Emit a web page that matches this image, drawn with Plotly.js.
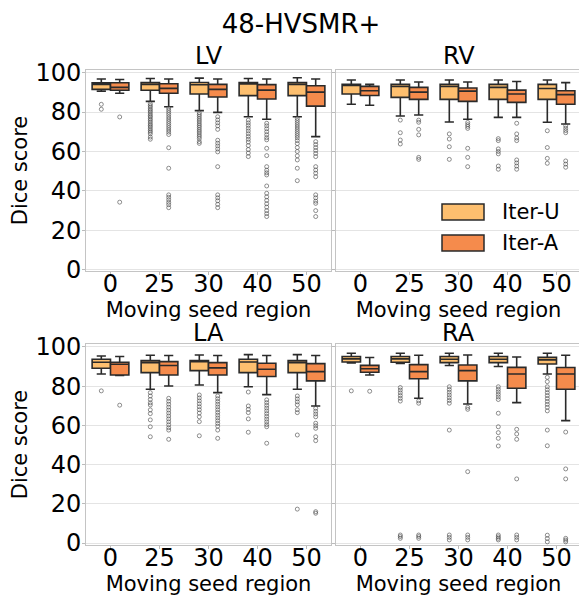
<!DOCTYPE html>
<html><head><meta charset="utf-8">
<script src="https://cdn.plot.ly/plotly-3.0.1.min.js"></script>
<style>html,body{margin:0;padding:0;overflow:hidden;background:#fff}</style>
</head><body><div id="chart" style="width:585px;height:596px"></div>
<script>
// ---------------- data ----------------
const categories = ['0', '25', '30', '40', '50'];
const seriesNames = ['Iter-U', 'Iter-A'];
const panelNames = ['LV', 'RV', 'LA', 'RA'];
const yTicks = [0, 20, 40, 60, 80, 100];

// LV
const LV_U_low = [90.5, 85.4, 80.7, 77.6, 77.6];
const LV_U_q1  = [91.5, 91.0, 89.1, 88.3, 88.3];
const LV_U_med = [94.0, 94.0, 93.8, 94.2, 94.0];
const LV_U_q3  = [94.8, 95.0, 95.0, 95.0, 95.0];
const LV_U_up  = [96.7, 97.0, 97.2, 97.0, 97.4];
const LV_U_out = [
  [83.9, 81.4],
  [84.2, 83.3, 82.5, 81.6, 80.8, 80.0, 79.1, 78.2, 77.5, 76.6, 75.8, 74.9, 74.0, 73.2, 72.4, 71.5, 70.6, 69.8, 68.9, 67.3, 66.2],
  [79.6, 78.7, 77.8, 76.8, 75.9, 75.0, 74.0, 73.1, 72.2, 71.2, 70.3, 69.4, 68.4, 67.5, 66.5, 65.0, 64.1],
  [75.9, 74.5, 73.2, 71.8, 70.4, 69.0, 67.6, 66.2, 64.8, 63.0, 61.0, 59.2, 57.4],
  [76.8, 75.7, 74.6, 73.5, 72.4, 71.3, 70.2, 69.1, 68.0, 66.9, 65.5, 64.0, 62.0, 60.0, 57.8, 55.7, 51.5, 45.2]
];
const LV_A_low = [89.5, 82.7, 79.8, 76.3, 67.5];
const LV_A_q1  = [91.0, 89.5, 87.6, 86.6, 83.0];
const LV_A_med = [92.5, 92.0, 91.5, 91.1, 90.1];
const LV_A_q3  = [94.8, 94.3, 94.0, 93.9, 93.3];
const LV_A_up  = [96.5, 96.7, 96.7, 96.7, 96.7];
const LV_A_out = [
  [77.5, 34.3],
  [82.0, 80.9, 79.8, 78.7, 77.5, 76.4, 75.3, 74.2, 73.1, 72.0, 70.9, 69.8, 68.6, 61.9, 51.5, 38.0, 36.8, 35.5, 34.2, 33.0, 31.5],
  [77.6, 76.0, 74.5, 73.0, 71.2, 65.7, 64.2, 62.8, 61.3, 59.8, 52.3, 38.0, 36.5, 35.0, 33.2, 31.5],
  [74.3, 73.0, 71.5, 70.0, 68.5, 67.0, 65.9, 61.6, 57.9, 52.3, 50.5, 49.2, 48.1, 42.5, 38.8, 37.0, 35.2, 33.5, 31.8, 30.0, 28.5, 27.0],
  [65.0, 63.5, 62.0, 60.5, 59.0, 57.4, 52.3, 50.6, 49.0, 47.2, 38.0, 36.5, 34.8, 33.7, 30.0, 27.0]
];

// RV
const RV_U_low = [83.9, 78.0, 74.9, 77.3, 74.8];
const RV_U_q1  = [89.1, 87.4, 86.4, 86.4, 86.4];
const RV_U_med = [93.6, 92.9, 92.9, 92.5, 91.9];
const RV_U_q3  = [94.0, 94.0, 94.0, 94.0, 94.0];
const RV_U_up  = [96.2, 96.2, 96.2, 96.2, 96.2];
const RV_U_out = [
  [],
  [75.9, 69.5, 65.8, 63.8],
  [68.9, 66.3, 62.4, 56.0],
  [66.5, 65.5, 61.3, 60.0, 58.8, 52.6, 51.0],
  [70.5, 62.0, 56.5, 54.0]
];
const RV_A_low = [83.4, 78.5, 76.3, 77.3, 73.9];
const RV_A_q1  = [88.4, 86.4, 85.4, 84.9, 83.9];
const RV_A_med = [90.8, 90.1, 90.6, 89.1, 88.8];
const RV_A_q3  = [93.0, 92.5, 92.2, 91.1, 90.8];
const RV_A_up  = [94.0, 95.2, 95.2, 95.5, 94.9];
const RV_A_out = [
  [],
  [75.9, 74.8, 71.2, 68.4, 57.0, 56.0],
  [74.7, 73.6, 72.7, 71.7, 61.6, 57.0, 52.3],
  [74.3, 68.9, 66.8, 65.5, 55.7, 54.2, 52.6, 51.0],
  [73.0, 71.8, 70.6, 69.5, 55.2, 53.6, 52.0]
];

// LA
const LA_U_low = [86.2, 78.4, 80.6, 79.7, 78.4];
const LA_U_q1  = [89.1, 86.9, 87.9, 86.9, 86.9];
const LA_U_med = [92.2, 92.0, 92.5, 92.3, 92.0];
const LA_U_q3  = [93.7, 93.0, 93.0, 93.7, 93.0];
const LA_U_up  = [95.4, 95.8, 95.9, 96.1, 96.1];
const LA_U_out = [
  [77.6],
  [76.7, 75.0, 73.2, 71.5, 70.4, 67.9, 66.0, 62.8, 59.3, 54.2],
  [75.5, 74.0, 72.5, 71.0, 69.5, 68.0, 66.3, 64.4, 61.9, 54.7],
  [77.0, 69.9, 68.2, 66.5, 63.3, 56.5],
  [75.0, 73.5, 72.0, 70.5, 68.0, 66.5, 55.1, 17.3]
];
const LA_A_low = [85.5, 80.1, 76.7, 75.7, 69.9];
const LA_A_q1  = [85.7, 85.7, 85.7, 84.9, 82.7];
const LA_A_med = [91.2, 90.5, 89.3, 88.6, 87.4];
const LA_A_q3  = [92.2, 92.5, 92.0, 91.7, 91.5];
const LA_A_up  = [95.1, 95.6, 95.6, 95.6, 95.6];
const LA_A_out = [
  [70.3],
  [73.8, 72.3, 70.8, 69.3, 67.8, 66.3, 64.8, 63.3, 61.8, 60.3, 58.8, 57.6, 52.9],
  [75.0, 73.6, 72.2, 70.8, 69.4, 68.0, 66.6, 65.2, 63.8, 62.4, 61.0, 59.6, 57.6, 53.4],
  [73.0, 71.6, 70.2, 68.8, 67.4, 66.0, 64.6, 63.2, 61.8, 60.4, 59.3, 50.9],
  [68.7, 67.2, 65.8, 64.4, 61.1, 59.8, 58.5, 54.2, 52.2, 16.0, 15.2]
];

// RA
const RA_U_low = [91.8, 91.6, 90.5, 90.0, 86.2];
const RA_U_q1  = [92.3, 92.2, 92.0, 92.0, 91.3];
const RA_U_med = [93.9, 93.9, 93.7, 93.7, 93.4];
const RA_U_q3  = [95.1, 95.1, 95.1, 95.1, 94.7];
const RA_U_up  = [96.8, 96.8, 96.8, 96.8, 96.8];
const RA_U_out = [
  [77.6],
  [79.3, 78.0, 76.6, 75.2, 73.8, 72.4, 4.1, 3.3, 2.4],
  [79.7, 78.3, 76.9, 75.5, 74.1, 72.7, 71.3, 57.6, 4.1, 2.9, 1.6],
  [79.7, 78.4, 77.1, 75.8, 74.5, 73.2, 66.2, 59.3, 56.3, 53.4, 49.5, 4.1, 3.2, 2.4, 1.6],
  [84.5, 82.3, 79.7, 78.2, 76.7, 75.2, 73.7, 72.2, 70.7, 69.2, 67.4, 57.6, 49.6, 4.0, 2.3, 0.6]
];
const RA_A_low = [85.7, 73.8, 70.9, 71.6, 62.4];
const RA_A_q1  = [87.1, 83.8, 82.7, 78.9, 78.4];
const RA_A_med = [88.9, 87.4, 87.9, 86.2, 86.2];
const RA_A_q3  = [90.6, 91.0, 90.8, 89.6, 89.5];
const RA_A_up  = [94.6, 95.8, 95.9, 94.9, 95.8];
const RA_A_out = [
  [77.4],
  [72.5, 71.3, 4.1, 3.3, 2.4],
  [69.2, 68.2, 36.4, 4.1, 2.9, 1.6],
  [58.0, 55.6, 52.9, 32.7, 4.1, 2.9, 1.6],
  [56.6, 37.8, 32.7, 2.4, 1.5, 0.6]
];

// ---------------- build ----------------
const W = 585, H = 596;
const colors = ['#fdbf6f', '#f58b4c'];
const boxLine = '#2a2a2a';
const BOXGAP = 0.25;

const panelData = {
  LV: [[LV_U_low, LV_U_q1, LV_U_med, LV_U_q3, LV_U_up, LV_U_out], [LV_A_low, LV_A_q1, LV_A_med, LV_A_q3, LV_A_up, LV_A_out]],
  RV: [[RV_U_low, RV_U_q1, RV_U_med, RV_U_q3, RV_U_up, RV_U_out], [RV_A_low, RV_A_q1, RV_A_med, RV_A_q3, RV_A_up, RV_A_out]],
  LA: [[LA_U_low, LA_U_q1, LA_U_med, LA_U_q3, LA_U_up, LA_U_out], [LA_A_low, LA_A_q1, LA_A_med, LA_A_q3, LA_A_up, LA_A_out]],
  RA: [[RA_U_low, RA_U_q1, RA_U_med, RA_U_q3, RA_U_up, RA_U_out], [RA_A_low, RA_A_q1, RA_A_med, RA_A_q3, RA_A_up, RA_A_out]]
};

const px2x = p => p / W;
const px2y = p => 1 - p / H;
const idx = categories.map((c, i) => i);
const traces = [];
panelNames.forEach((pn, k) => {
  const xa = k === 0 ? 'x' : 'x' + (k + 1);
  const ya = k === 0 ? 'y' : 'y' + (k + 1);
  panelData[pn].forEach((s, si) => {
    traces.push({
      type: 'box', name: seriesNames[si], x: idx,
      lowerfence: s[0], q1: s[1], median: s[2], q3: s[3], upperfence: s[4],
      xaxis: xa, yaxis: ya, offsetgroup: seriesNames[si],
      fillcolor: colors[si], line: {color: boxLine, width: 1.6},
      whiskerwidth: 0.5, boxpoints: false, showlegend: false, hoverinfo: 'skip'
    });
  });
  panelData[pn].forEach((s, si) => {
    const off = (si === 0 ? -1 : 1) * (1 - BOXGAP) / 4;
    const xs = [], ys = [];
    s[5].forEach((arr, i) => arr.forEach(v => { xs.push(i + off); ys.push(v); }));
    traces.push({
      type: 'scatter', mode: 'markers', x: xs, y: ys, xaxis: xa, yaxis: ya,
      marker: {symbol: 'circle-open', size: 4, color: 'rgba(70,70,70,0.6)', line: {width: 1}},
      showlegend: false, hoverinfo: 'skip'
    });
  });
});

const font = 'DejaVu Sans, Liberation Sans, sans-serif';
const xDomL = [px2x(86), px2x(331)], xDomR = [px2x(336), px2x(581)];
const yDomT = [px2y(271), px2y(70)], yDomB = [px2y(545), px2y(344)];
const rangeT = [-0.6, 101.3], rangeB = [-1.0, 101.5];

function xax(dom, anchor) {
  return {
    domain: dom, anchor: anchor, range: [-0.5, 4.5], tickvals: idx, ticktext: categories,
    tickfont: {size: 24, color: '#000'}, ticks: 'outside', ticklen: 3, tickcolor: '#bbb',
    ticklabelstandoff: -12,
    showline: true, mirror: true, linecolor: '#c4c4c4', linewidth: 1,
    showgrid: false, zeroline: false, fixedrange: true,
    title: {text: 'Moving seed region', font: {size: 21, color: '#000'}, standoff: 2}
  };
}
function yax(dom, anchor, range, labels) {
  return {
    domain: dom, anchor: anchor, range: range, tickvals: yTicks, showticklabels: labels,
    tickfont: {size: 24, color: '#000'}, ticks: 'outside', ticklen: 3, tickcolor: '#bbb',
    ticklabelstandoff: -4,
    showline: true, mirror: true, linecolor: '#c4c4c4', linewidth: 1,
    showgrid: true, gridcolor: '#e4e4e4', gridwidth: 1, zeroline: false, fixedrange: true,
    title: labels ? {text: 'Dice score', font: {size: 21, color: '#000'}, standoff: 2} : {text: ''}
  };
}

const annotations = [
  {text: 'LV', x: (xDomL[0] + xDomL[1]) / 2, y: px2y(56)},
  {text: 'RV', x: (xDomR[0] + xDomR[1]) / 2, y: px2y(56)},
  {text: 'LA', x: (xDomL[0] + xDomL[1]) / 2, y: px2y(333)},
  {text: 'RA', x: (xDomR[0] + xDomR[1]) / 2, y: px2y(333)}
].map(a => Object.assign(a, {xref: 'paper', yref: 'paper', xanchor: 'center', yanchor: 'middle', showarrow: false, borderpad: 0, font: {size: 24, color: '#000'}}));

// legend (drawn inside the RV panel)
const legendRows = [212, 243];
const shapes = [];
seriesNames.forEach((n, i) => {
  const cy = legendRows[i];
  shapes.push({type: 'rect', xref: 'paper', yref: 'paper', x0: px2x(442), x1: px2x(484), y0: px2y(cy + 8), y1: px2y(cy - 8),
    fillcolor: colors[i], line: {color: boxLine, width: 1.5}});
  annotations.push({text: n, xref: 'paper', yref: 'paper', x: px2x(500), y: px2y(cy), xanchor: 'left', yanchor: 'middle',
    showarrow: false, font: {size: 21, color: '#000'}});
});

const layout = {
  width: W, height: H, margin: {l: 0, r: 0, t: 0, b: 0},
  paper_bgcolor: '#fff', plot_bgcolor: '#fff',
  font: {family: font, color: '#000'},
  title: {text: '48-HVSMR+', font: {size: 26, color: '#000'}, x: px2x(301), xanchor: 'center', xref: 'paper', y: px2y(24), yanchor: 'middle', yref: 'paper'},
  boxmode: 'group', boxgap: BOXGAP, boxgroupgap: 0,
  showlegend: false,
  xaxis: xax(xDomL, 'y'), yaxis: yax(yDomT, 'x', rangeT, true),
  xaxis2: xax(xDomR, 'y2'), yaxis2: yax(yDomT, 'x2', rangeT, false),
  xaxis3: xax(xDomL, 'y3'), yaxis3: yax(yDomB, 'x3', rangeB, true),
  xaxis4: xax(xDomR, 'y4'), yaxis4: yax(yDomB, 'x4', rangeB, false),
  annotations: annotations, shapes: shapes
};

Plotly.newPlot('chart', traces, layout, {staticPlot: true, displayModeBar: false});
</script></body></html>
